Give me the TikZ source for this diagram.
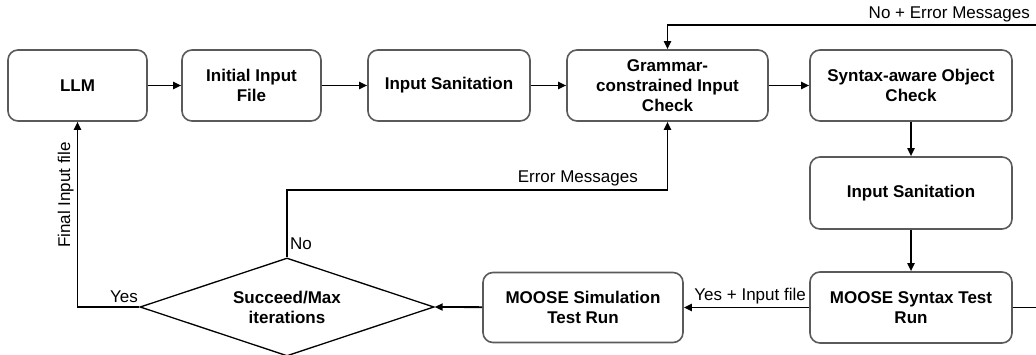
\documentclass[tikz,border=0pt]{standalone}
\usepackage{fontspec}
\setmainfont{Liberation Sans}
\usetikzlibrary{shapes.geometric,arrows.meta}
\definecolor{boxgray}{HTML}{5A5A5A}
\begin{document}
\begin{tikzpicture}[x=1pt,y=-1pt,
  stepbox/.style={draw=boxgray, line width=1.6pt, rounded corners=10pt, fill=white,
    align=center, inner sep=0pt, minimum height=71pt,
    font=\bfseries\fontsize{17}{20}\selectfont},
  decision/.style={draw=black, line width=1.3pt, diamond, aspect=3, inner sep=0pt,
    minimum width=294pt, minimum height=98pt, align=center,
    font=\bfseries\fontsize{17}{20}\selectfont},
  conn/.style={line width=1.8pt, -{Triangle[length=8pt,width=7pt]}},
  lbl/.style={font=\fontsize{17}{20}\selectfont, inner sep=0pt}]
\useasboundingbox (0,0) rectangle (1036,355);
\node[stepbox, minimum width=139pt] (llm) at (77.5,85.5) {LLM};
\node[stepbox, minimum width=139pt] (init) at (251.5,85.5) {Initial Input\\File};
\node[stepbox, minimum width=162pt] (san1) at (449,85.5) {Input Sanitation};
\node[stepbox, minimum width=201pt] (gram) at (667.5,85.5) {Grammar-\\constrained Input\\Check};
\node[stepbox, minimum width=202pt] (syn) at (911,85.5) {Syntax-aware Object\\Check};
\node[stepbox, minimum width=202pt, minimum height=72pt] (san2) at (911,193) {Input Sanitation};
\node[stepbox, minimum width=202pt] (mss) at (911,307.5) {MOOSE Syntax Test\\Run};
\node[stepbox, minimum width=200pt, minimum height=70pt] (msim) at (583,307.5) {MOOSE Simulation\\Test Run};
\node[decision] (dec) at (287,307) {Succeed/Max\\iterations};

\coordinate (r1) at (1060,307.5);
\coordinate (r2) at (1060,25);
\coordinate (g1) at (667.5,25);
\coordinate (e1) at (287,190);
\coordinate (e2) at (667.5,190);
\coordinate (f1) at (77.5,307);

\draw[conn] (llm) -- (init);
\draw[conn] (init) -- (san1);
\draw[conn] (san1) -- (gram);
\draw[conn] (gram) -- (syn);
\draw[conn] (syn) -- (san2);
\draw[conn] (san2) -- (mss);
\draw[conn] (mss) -- (msim);
\draw[conn] (msim) -- (dec.east);
\draw[conn] (dec.north) -- (e1) -- (e2) -- (gram.south);
\draw[conn] (dec.west) -- (f1) -- (llm.south);
\draw[conn] (mss.east) -- (r1) -- (r2) -- (g1) -- (gram.north);

\node[lbl, anchor=base east] (lerr) at (638,183) {Error Messages};
\node[lbl, anchor=base west] (lno) at (290,250) {No};
\node[lbl, anchor=base east] (lyes) at (138,303) {Yes};
\node[lbl, anchor=base, rotate=90] (lfin) at (70,195) {Final Input file};
\node[lbl, anchor=base east] (lyi) at (806,301) {Yes + Input file};
\node[lbl, anchor=base east] (lnoerr) at (1030,19) {No + Error Messages};
\end{tikzpicture}
\end{document}
